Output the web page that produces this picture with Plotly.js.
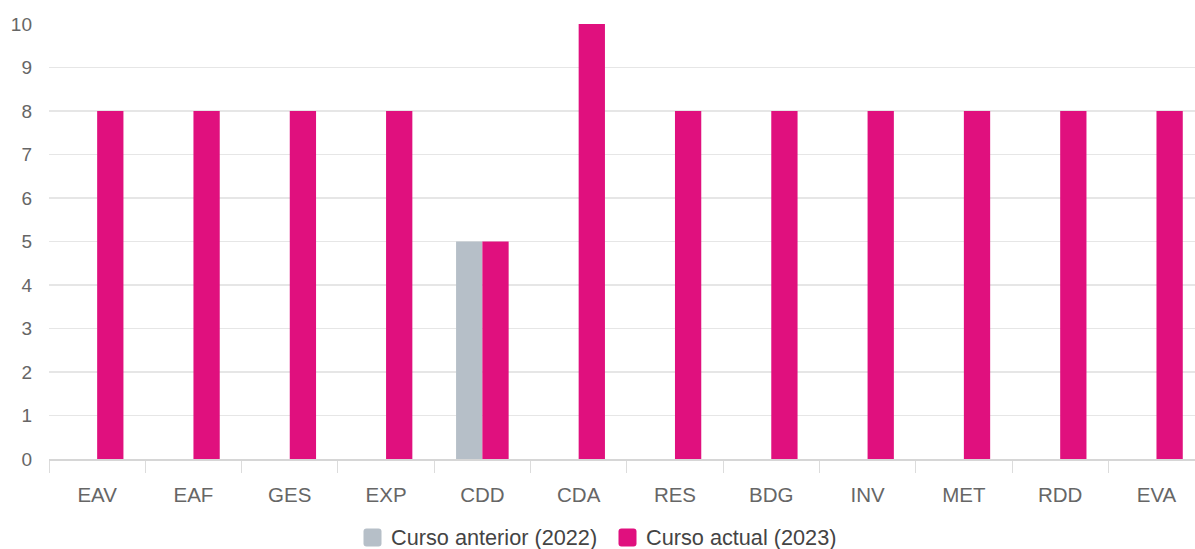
<!DOCTYPE html>
<html>
<head>
<meta charset="utf-8">
<script src="https://cdn.plot.ly/plotly-3.0.1.min.js"></script>
<style>html,body{margin:0;padding:0;background:#fff;overflow:hidden}#chart{width:1195px;height:549px}</style>
</head>
<body>
<div id="chart"></div>
<script>
const categories = ["EAV","EAF","GES","EXP","CDD","CDA","RES","BDG","INV","MET","RDD","EVA"];
const seriesNames = ["Curso anterior (2022)", "Curso actual (2023)"];
const previousValues = [null,null,null,null,5,null,null,null,null,null,null,null];
const currentValues = [8,8,8,8,5,10,8,8,8,8,8,8];
const yTicks = [0,1,2,3,4,5,6,7,8,9,10];

const colPrev = "#b6bfc8";
const colCurr = "#e0107e";
const font = "Liberation Sans, Arial, sans-serif";

const traces = [
  {type:"bar", name:seriesNames[0], x:categories, y:previousValues, marker:{color:colPrev, line:{width:0}}, hoverinfo:"none"},
  {type:"bar", name:seriesNames[1], x:categories, y:currentValues, marker:{color:colCurr, line:{width:0}}, hoverinfo:"none"}
];

const W = 1146, H = 435, L = 49, T = 24;
function px(p){ return (p - L) / W; }
function py(p){ return (T + H - p) / H; }

function roundSq(){
  const r = 3, s = 9;
  return `M${-s+r},${-s} H${s-r} Q${s},${-s} ${s},${-s+r} V${s-r} Q${s},${s} ${s-r},${s} H${-s+r} Q${-s},${s} ${-s},${s-r} V${-s+r} Q${-s},${-s} ${-s+r},${-s} Z`;
}

const legendItems = [
  {sq:372.5, tx:389, color:colPrev, name:seriesNames[0]},
  {sq:627.5, tx:644, color:colCurr, name:seriesNames[1]}
];
const legendY = 537.5;

const shapes = legendItems.map(it => ({
  type:"path", xref:"paper", yref:"paper", xsizemode:"pixel", ysizemode:"pixel",
  xanchor:px(it.sq), yanchor:py(legendY), path:roundSq(),
  fillcolor:it.color, line:{width:0}
}));
const annotations = legendItems.map(it => ({
  xref:"paper", yref:"paper", x:px(it.tx), y:py(legendY), xanchor:"left", yanchor:"middle",
  text:it.name, showarrow:false, font:{family:font, size:21.7, color:"#444"}
}));

const layout = {
  width:1195, height:549,
  margin:{l:L, r:0, t:T, b:549-T-H, pad:0},
  paper_bgcolor:"#fff", plot_bgcolor:"#fff",
  barmode:"group", bargap:0.454, bargroupgap:0,
  showlegend:false,
  xaxis:{
    type:"category", range:[-0.5, 11.4],
    tickson:"boundaries", ticks:"outside", ticklen:12, tickcolor:"#dcdcdc", tickwidth:1,
    showline:true, linecolor:"#d6d6d6", linewidth:1.5,
    showgrid:false, zeroline:false,
    tickfont:{family:font, size:20.5, color:"#666"},
    ticklabelstandoff:17, fixedrange:true
  },
  yaxis:{
    range:[0,10], tickvals:yTicks, ticktext:yTicks.map(String),
    showgrid:true, gridcolor:"#e6e6e6", gridwidth:1.5,
    zeroline:false, showline:false, ticks:"",
    tickfont:{family:font, size:19, color:"#666"},
    ticklabelstandoff:16, fixedrange:true
  },
  shapes:shapes,
  annotations:annotations
};

Plotly.newPlot("chart", traces, layout, {displayModeBar:false, staticPlot:true});
</script>
</body>
</html>
